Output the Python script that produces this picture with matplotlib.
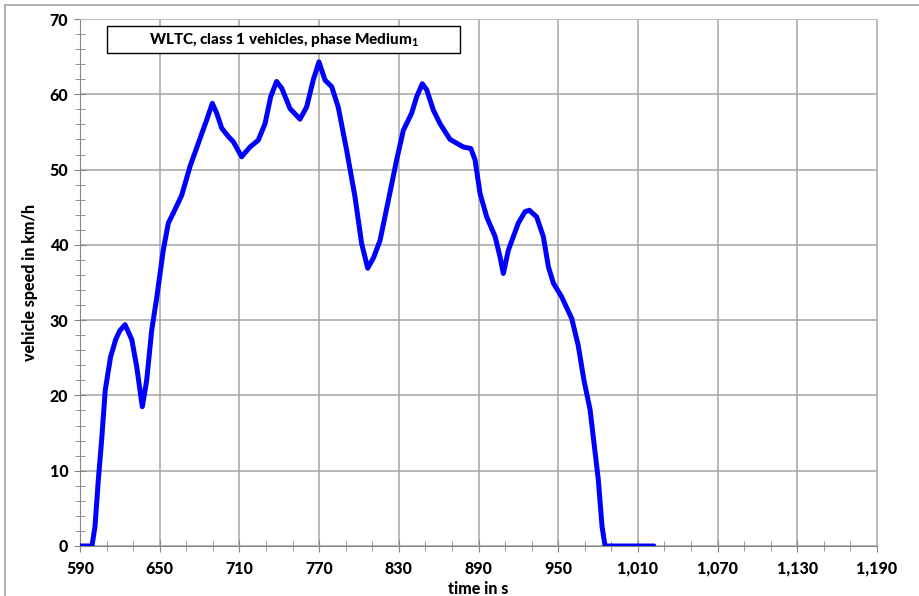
import matplotlib
matplotlib.use("Agg")
import matplotlib.pyplot as plt
from matplotlib.ticker import FixedLocator, MultipleLocator, FuncFormatter
from matplotlib.patches import Rectangle
from matplotlib.lines import Line2D

plt.rcParams['font.family'] = ['Lato', 'DejaVu Sans']
plt.rcParams['mathtext.fontset'] = 'custom'
plt.rcParams['mathtext.rm'] = 'Lato:black'

# WLTC class 1, medium phase
time_s = [590, 599, 601.3, 603.8, 606.3, 609, 613, 617, 620, 623.9, 629, 632.7, 636.9,
          640.2, 644, 647.7, 652.7, 656.5, 660.2, 666.6, 672.8, 680.3, 685.4, 689.6,
          692.9, 696.7, 701.6, 705.4, 711.7, 718, 724.2, 729.3, 733.6, 738, 741.9,
          748.1, 755.6, 760.6, 765.6, 769.9, 774.4, 779.5, 784.4, 790.7, 797, 802,
          806.6, 811, 815.9, 823.4, 828.4, 833.4, 839.7, 843.5, 847.7, 851, 856, 861,
          868.6, 878.6, 884.2, 887.4, 891.2, 896.2, 902.5, 906.2, 908.7, 912.5, 920,
          925, 928.3, 933.8, 938.8, 942.6, 946.4, 952.6, 960.2, 965, 969.4, 974,
          980.2, 983, 985.3, 1022]
speed_kmh = [0, 0, 2.6, 8.8, 14.1, 20.7, 25.1, 27.5, 28.6, 29.4, 27.4, 23.8, 18.5,
             22, 28.7, 32.9, 39.3, 42.9, 44.2, 46.6, 50.4, 54.1, 56.6, 58.8,
             57.5, 55.5, 54.4, 53.7, 51.7, 53, 53.9, 56.1, 59.7, 61.7, 60.8,
             58.1, 56.7, 58.3, 61.9, 64.3, 61.9, 61, 58.3, 52.6, 46.4, 40.2,
             36.9, 38.3, 40.6, 47, 51.3, 55.2, 57.5, 59.7, 61.4, 60.6, 57.9, 56.1,
             54, 53, 52.8, 51.3, 46.8, 43.7, 41.1, 38.4, 36.2, 39.3, 42.9,
             44.4, 44.6, 43.7, 41.1, 37.1, 34.9, 33.1, 30.2, 26.7, 22, 18.1,
             8.8, 2.6, 0, 0]

x_major = list(range(590, 1191, 60))
x_minor = list(range(590, 1191, 20))

title = r"WLTC, class 1 vehicles, phase Medium$_{1}$"
x_label = "time in s"
y_label = "vehicle speed in km/h"
W = 'black'

fig = plt.figure(figsize=(9.19, 5.96), dpi=100)
ax = fig.add_axes([80/919, 1-546/596, 797/919, 527/596])

ax.plot(time_s, speed_kmh, color='#0000ff', linewidth=3.6, solid_joinstyle='round',
        solid_capstyle='round', zorder=3)

ax.set_xlim(590, 1190)
ax.set_ylim(0, 70)
ax.xaxis.set_major_locator(FixedLocator(x_major))
ax.xaxis.set_minor_locator(FixedLocator(x_minor))
ax.yaxis.set_major_locator(MultipleLocator(10))
ax.yaxis.set_minor_locator(MultipleLocator(2))
ax.xaxis.set_major_formatter(FuncFormatter(lambda v, p: f"{v:,.0f}"))

ax.grid(True, which='major', color='#a6a6a6', linewidth=1.1)
for s in ax.spines.values():
    s.set_color('#bfbfbf')
ax.spines['left'].set_color('#868686')
ax.spines['bottom'].set_color('#868686')

ax.tick_params(which='both', direction='inout', color='#868686')
ax.tick_params(which='major', length=9, labelsize=11.5, pad=4)
ax.tick_params(which='minor', length=7)
for lab in ax.get_xticklabels() + ax.get_yticklabels():
    lab.set_fontweight(W)
ax.tick_params(axis='x', which='major', pad=6)

ax.set_xlabel(x_label, fontsize=11.5, fontweight=W, labelpad=3)
ax.set_ylabel(y_label, fontsize=11.5, fontweight=W, labelpad=8)

# title box
ax.add_patch(Rectangle((0.0339, 0.9355), 0.4429, 0.0512, transform=ax.transAxes,
                       facecolor='white', edgecolor='black', linewidth=1.0, zorder=4))
ax.text(0.2553, 0.960, title, transform=ax.transAxes, ha='center', va='center',
        fontsize=11, fontweight=W, zorder=5)

# chart border (cropped)
fig.add_artist(Line2D([5/919, 1], [1-5/596, 1-5/596], transform=fig.transFigure,
                      color='#a6a6a6', linewidth=1.2))
fig.add_artist(Line2D([5/919, 5/919], [0, 1-5/596], transform=fig.transFigure,
                      color='#a6a6a6', linewidth=1.2))

fig.savefig('out.png', dpi=100)
